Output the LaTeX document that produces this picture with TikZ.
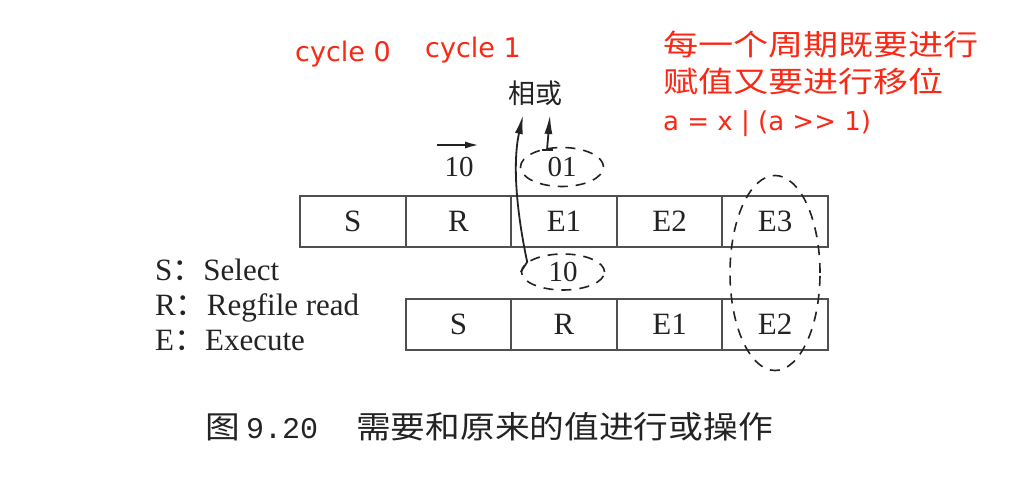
\documentclass[tikz,border=0pt]{standalone}
\usepackage{fontspec}
\setmainfont{Liberation Serif}
\newfontfamily\cjk{Noto Sans CJK SC}
\newfontfamily\cjkwide[FakeStretch=1.21]{Noto Sans CJK SC}
\newfontfamily\capcjk[FakeStretch=1.12]{Noto Sans CJK SC}
\newfontfamily\redsans{DejaVu Sans}
\newfontfamily\capmono{Liberation Mono}
\usetikzlibrary{shapes.geometric,arrows.meta}
\definecolor{redtxt}{RGB}{250,40,20}
\definecolor{ink}{RGB}{35,35,35}
\definecolor{boxline}{RGB}{80,80,80}
\tikzset{
  cell/.style={draw=boxline, line width=2pt, minimum width=105.6pt, minimum height=51pt,
    inner sep=0pt, text=ink, font=\fontsize{31}{31}\selectfont},
  ring/.style={ellipse, draw=ink, dashed, dash pattern=on 10pt off 8pt, line width=1.6pt,
    inner sep=0pt, text=ink, font=\fontsize{29}{29}\selectfont},
  lbl/.style={anchor=base west, inner sep=0pt, text=ink, font=\fontsize{31}{31}\selectfont},
  redlbl/.style={anchor=base west, inner sep=0pt, text=redtxt},
  arr/.style={draw=ink, line width=1.8pt, -{Latex[length=19pt,width=8pt]}},
}
\begin{document}
\begin{tikzpicture}[x=1pt,y=-1pt]
\useasboundingbox[fill=white] (0,0) rectangle (1024,489);

% red annotations
\node[redlbl, font=\redsans\fontsize{27}{27}\selectfont] (c0) at (295,62) {cycle 0};
\node[redlbl, font=\redsans\fontsize{27}{27}\selectfont] (c1) at (425,58) {cycle 1};
\node[redlbl, font=\cjkwide\fontsize{29}{29}\selectfont] (n1) at (663,56) {每一个周期既要进行};
\node[redlbl, font=\cjkwide\fontsize{29}{29}\selectfont] (n2) at (663,93) {赋值又要进行移位};
\node[redlbl, font=\redsans\fontsize{26}{26}\selectfont] (n3) at (663,131) {a = x | (a >> 1)};

% top row
\node[cell] (t1) at (352.8,221.5) {S};
\node[cell] (t2) at (458.4,221.5) {R};
\node[cell] (t3) at (564.0,221.5) {E1};
\node[cell] (t4) at (669.6,221.5) {E2};
\node[cell] (t5) at (775.2,221.5) {E3};
% bottom row
\node[cell] (b2) at (458.4,324) {S};
\node[cell] (b3) at (564.0,324) {R};
\node[cell] (b4) at (669.6,324) {E1};
\node[cell] (b5) at (775.2,324) {E2};

% legend
\node[lbl] (ls) at (155,280) {S{\cjk：}Select};
\node[lbl] (lr) at (155,315) {R{\cjk：}Regfile read};
\node[lbl] (le) at (155,350) {E{\cjk：}Execute};

% dashed ellipses
\node[ring, minimum width=83pt, minimum height=39pt] (o01) at (562,167) {01};
\node[ring, minimum width=83pt, minimum height=36pt] (o10) at (563,272) {10};
\node[ring, minimum width=90pt, minimum height=195pt] (col) at (775,273) {};

% labels above
\node[inner sep=0pt, text=ink, font=\cjk\fontsize{27}{27}\selectfont] (or) at (535,93) {相或};
\node[inner sep=0pt, text=ink, font=\fontsize{29}{29}\selectfont] (ten) at (459,167) {10};
\draw[draw=ink, line width=2.4pt, -{Latex[length=15pt,width=7pt]}]
  ([xshift=-22pt,yshift=22pt]ten.center) -- ([xshift=21pt,yshift=22pt]ten.center);

% arrows to "相或"
\draw[arr] (o10.west) -- ++(6.5,-10)
  .. controls +(-10,-47) and +(-11,50) .. ([xshift=-12pt,yshift=-22pt]or.center);
\coordinate (s2) at ([xshift=-15pt,yshift=17pt]o01.center);
\draw[arr] (s2) -- ([xshift=15pt,yshift=-22pt]or.center);
\draw[draw=ink, line width=1.4pt] ([xshift=-5pt]s2) -- ([xshift=6pt]s2);

% caption
\node[anchor=base west, inner sep=0pt, text=ink, font=\capcjk\fontsize{31}{31}\selectfont] (cap1) at (205,438) {图};
\node[anchor=base west, inner sep=0pt, text=ink, font=\capmono\fontsize{30}{30}\selectfont] (cap2) at (246,438) {9.20};
\node[anchor=base west, inner sep=0pt, text=ink, font=\capcjk\fontsize{31}{31}\selectfont] (cap3) at (356,438) {需要和原来的值进行或操作};
\end{tikzpicture}
\end{document}
